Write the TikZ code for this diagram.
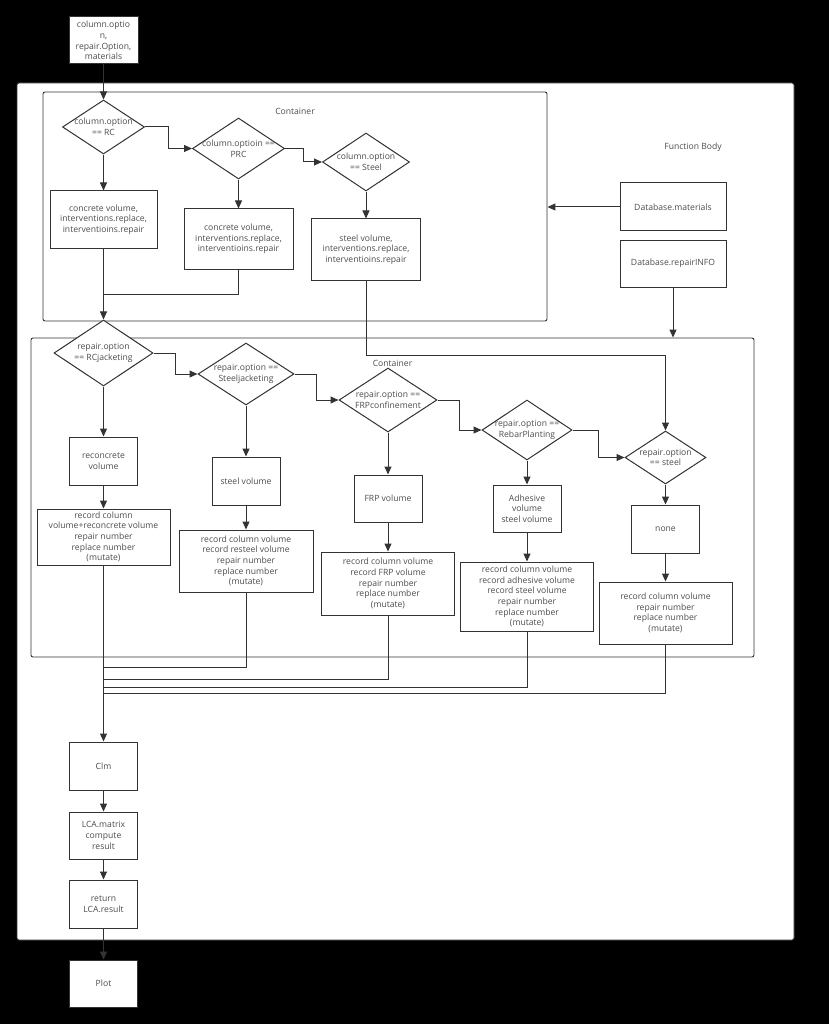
\documentclass[tikz,border=0pt]{standalone}
\usepackage{fontspec}
\setmainfont{Open Sans}
\usetikzlibrary{calc,shapes.geometric,arrows.meta}
\definecolor{linegray}{HTML}{333333}
\definecolor{textgray}{HTML}{4D4D4D}
\newcommand\flowfont{\fontsize{8.6}{10.7}\selectfont}
\tikzstyle{whitebox}=[rectangle,draw=linegray,fill=white,line width=1pt,
                      text=textgray,font=\flowfont,align=center,inner sep=0pt]
\tikzstyle{decision}=[diamond,draw=linegray,fill=white,line width=1pt,inner sep=0pt]
\tikzstyle{container}=[rectangle,draw=linegray,fill=white,line width=0.9pt,rounded corners=2pt]
\tikzstyle{caption}=[text=textgray,font=\flowfont,align=center,inner sep=0pt]
\tikzstyle{flowline}=[draw=linegray,line width=1pt]
\tikzstyle{flowarrow}=[flowline,-{Triangle[length=8pt,width=7pt]}]
\tikzset{question/.style 2 args={label={[caption]center:#1\\#2}}}

\begin{document}
\begin{tikzpicture}[x=1pt,y=-1pt]
    \fill[black] (0,0) rectangle (829,1024);
    \useasboundingbox (0,0) rectangle (829,1024);

    % frames
    \node [container,minimum width=777,minimum height=857] (body) at (405.5,511.5) {};
    \node [caption] (bodylabel) at (693,147) {Function Body};
    \node [container,minimum width=504,minimum height=229] (cont1) at (295,206.5) {};
    \node [caption] (cont1label) at (295,111) {Container};
    \node [container,minimum width=723,minimum height=319] (cont2) at (392.5,497.5) {};
    \node [caption] (cont2label) at (392.5,363) {Container};

    % input and databases
    \node [whitebox,minimum width=69,minimum height=47] (input) at (103.5,40.5) {
        column.optio\\n,\\repair.Option,\\materials
    };
    \node [whitebox,minimum width=106,minimum height=48] (dbmat) at (673,207) {Database.materials};
    \node [whitebox,minimum width=106,minimum height=47] (dbinfo) at (673,263.5) {Database.repairINFO};

    % column option
    \node [decision,minimum width=82,minimum height=54,question={column.option}{== RC}] (colrc) at (103.5,127) {};
    \node [decision,minimum width=92,minimum height=61,question={column.optioin ==}{PRC}] (colprc) at (238.5,148.5) {};
    \node [decision,minimum width=87,minimum height=58,question={column.option}{== Steel}] (colsteel) at (366,162) {};
    \node [whitebox,minimum width=107,minimum height=57] (rcvol) at (103.5,219.5) {
        concrete volume,\\interventions.replace,\\interventioins.repair
    };
    \node [whitebox,minimum width=109,minimum height=60] (prcvol) at (238.5,239) {
        concrete volume,\\interventions.replace,\\interventioins.repair
    };
    \node [whitebox,minimum width=109,minimum height=61] (steelvol) at (366,249.5) {
        steel volume,\\interventions.replace,\\interventioins.repair
    };

    % repair option
    \node [decision,minimum width=99,minimum height=66,question={repair.option}{== RCjacketing}] (rprc) at (103.5,353) {};
    \node [decision,minimum width=96,minimum height=62,question={repair.option ==}{Steeljacketing}] (rpsj) at (246,374) {};
    \node [decision,minimum width=98,minimum height=64,question={repair.option ==}{FRPconfinement}] (rpfrp) at (388,400) {};
    \node [decision,minimum width=90,minimum height=60,question={repair.option ==}{RebarPlanting}] (rpbar) at (527,430) {};
    \node [decision,minimum width=81,minimum height=53,question={repair.option}{== steel}] (rpsteel) at (665.5,457.5) {};

    \node [whitebox,minimum width=68,minimum height=48] (vrc) at (103.5,461) {reconcrete\\volume};
    \node [whitebox,minimum width=68,minimum height=48] (vsj) at (246,481) {steel volume};
    \node [whitebox,minimum width=68,minimum height=47] (vfrp) at (388,498.5) {FRP volume};
    \node [whitebox,minimum width=68,minimum height=47] (vbar) at (527,508.5) {Adhesive\\volume\\steel volume};
    \node [whitebox,minimum width=68,minimum height=48] (vsteel) at (665.5,529) {none};

    \node [whitebox,minimum width=133,minimum height=56] (recrc) at (103.5,537) {
        record column\\volume+reconcrete volume\\repair number\\replace number\\(mutate)
    };
    \node [whitebox,minimum width=134,minimum height=62] (recsj) at (246,561) {
        record column volume\\record resteel volume\\repair number\\replace number\\(mutate)
    };
    \node [whitebox,minimum width=133,minimum height=63] (recfrp) at (388,583.5) {
        record column volume\\record FRP volume\\repair number\\replace number\\(mutate)
    };
    \node [whitebox,minimum width=133,minimum height=69] (recbar) at (527,596.5) {
        record column volume\\record adhesive volume\\record steel volume\\repair number\\replace number\\(mutate)
    };
    \node [whitebox,minimum width=133,minimum height=62] (recsteel) at (665.5,613) {
        record column volume\\repair number\\replace number\\(mutate)
    };

    % output chain
    \node [whitebox,minimum width=68,minimum height=48] (clm) at (103.5,766) {Clm};
    \node [whitebox,minimum width=68,minimum height=47] (lca) at (103.5,835.5) {LCA.matrix\\compute\\result};
    \node [whitebox,minimum width=68,minimum height=48] (ret) at (103.5,904) {return\\LCA.result};
    \node [whitebox,minimum width=68,minimum height=47] (plot) at (103.5,983.5) {Plot};

    % joints
    \coordinate (join1) at (103.5,294);
    \coordinate (steelturn) at (366,355);
    \coordinate (join2) at (103.5,667);
    \coordinate (join3) at (103.5,679);
    \coordinate (join4) at (103.5,687);
    \coordinate (join5) at (103.5,693);

    % connectors
    \draw [flowarrow] (input) -- (colrc);
    \draw [flowarrow] (colrc.east) -| ($(colrc.east)!.5!(colprc.west)$) |- (colprc.west);
    \draw [flowarrow] (colprc.east) -| ($(colprc.east)!.5!(colsteel.west)$) |- (colsteel.west);
    \draw [flowarrow] (colrc) -- (rcvol);
    \draw [flowarrow] (colprc) -- (prcvol);
    \draw [flowarrow] (colsteel) -- (steelvol);
    \draw [flowline] (prcvol.south) |- (join1);
    \draw [flowarrow] (rcvol) -- (rprc);
    \draw [flowarrow] (steelvol.south) -- (steelturn) -| (rpsteel.north);
    \draw [flowarrow] (dbmat.west) -- (dbmat.west -| cont1.east);
    \draw [flowarrow] (dbinfo.south) -- (dbinfo.south |- cont2.north);

    \draw [flowarrow] (rprc.east) -| ($(rprc.east)!.5!(rpsj.west)$) |- (rpsj.west);
    \draw [flowarrow] (rpsj.east) -| ($(rpsj.east)!.5!(rpfrp.west)$) |- (rpfrp.west);
    \draw [flowarrow] (rpfrp.east) -| ($(rpfrp.east)!.5!(rpbar.west)$) |- (rpbar.west);
    \draw [flowarrow] (rpbar.east) -| ($(rpbar.east)!.5!(rpsteel.west)$) |- (rpsteel.west);

    \draw [flowarrow] (rprc) -- (vrc);
    \draw [flowarrow] (vrc) -- (recrc);
    \draw [flowarrow] (rpsj) -- (vsj);
    \draw [flowarrow] (vsj) -- (recsj);
    \draw [flowarrow] (rpfrp) -- (vfrp);
    \draw [flowarrow] (vfrp) -- (recfrp);
    \draw [flowarrow] (rpbar) -- (vbar);
    \draw [flowarrow] (vbar) -- (recbar);
    \draw [flowarrow] (rpsteel) -- (vsteel);
    \draw [flowarrow] (vsteel) -- (recsteel);

    \draw [flowline] (recsj.south) |- (join2);
    \draw [flowline] (recfrp.south) |- (join3);
    \draw [flowline] (recbar.south) |- (join4);
    \draw [flowline] (recsteel.south) |- (join5);
    \draw [flowarrow] (recrc) -- (clm);
    \draw [flowarrow] (clm) -- (lca);
    \draw [flowarrow] (lca) -- (ret);
    \draw [flowarrow] (ret) -- (plot);
\end{tikzpicture}
\end{document}
